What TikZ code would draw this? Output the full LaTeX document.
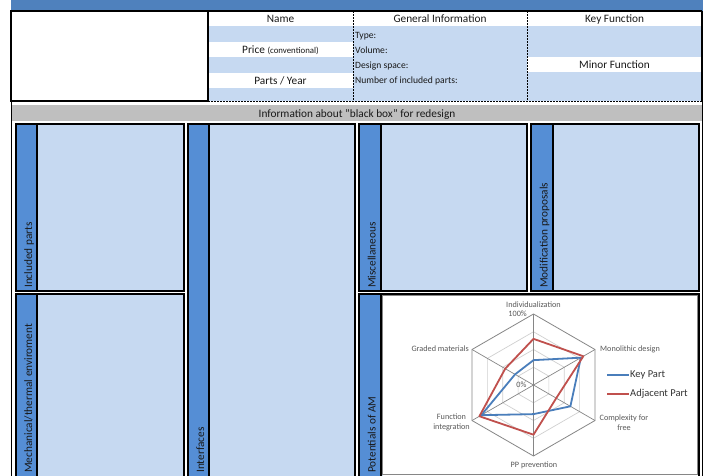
\documentclass[tikz,border=0pt]{standalone}
\usepackage{fontspec}
\setmainfont{Carlito}
\definecolor{barblue}{HTML}{4F81BD}
\definecolor{stripblue}{HTML}{558ED5}
\definecolor{cellblue}{HTML}{C6D9F1}
\definecolor{bandgray}{HTML}{BFBFBF}
\definecolor{keyblue}{HTML}{4A7EBB}
\definecolor{adjred}{HTML}{C0504D}
\definecolor{griddark}{HTML}{868686}
\definecolor{gridlight}{HTML}{D0D0D0}
\definecolor{charttext}{HTML}{595959}
\newcommand{\hdrfont}{\fontsize{11.3}{13}\selectfont}
\newcommand{\smlfont}{\fontsize{9.6}{11}\selectfont}
\newcommand{\tinyfont}{\fontsize{8.8}{10}\selectfont}
\newcommand{\chartfont}{\fontsize{8.2}{10}\selectfont}
\newcommand{\legfont}{\fontsize{10.5}{12}\selectfont}
\begin{document}
\begin{tikzpicture}[x=1pt,y=-1pt,
  panel/.style={draw=black,line width=1.3pt,fill=cellblue},
  strip/.style={draw=black,line width=1.1pt,fill=stripblue},
  solidline/.style={draw=black,line width=1.4pt},
  dashline/.style={draw=black,line width=0.8pt,dash pattern=on 2pt off 1pt},
  hdr/.style={font=\hdrfont,inner sep=0pt,anchor=base,text=black!90},
  sml/.style={font=\smlfont,inner sep=0pt,anchor=base west,text=black!90},
  vlabel/.style={rotate=90,anchor=base west,inner sep=0pt,font=\hdrfont,text=black!90},
  clabel/.style={font=\chartfont,inner sep=0pt,text=charttext,align=center},
  keyline/.style={draw=keyblue,line width=1.8pt,line join=round},
  adjline/.style={draw=adjred,line width=1.8pt,line join=round}]
\useasboundingbox (0,0) rectangle (709,475);
\clip (0,0) rectangle (709,475);
\fill[white] (0,0) rectangle (709,475);

% top bar
\fill[barblue] (11,0) rectangle (703,11);

% ---------- top table ----------
\fill[cellblue] (208,26) rectangle (353,42);
\fill[cellblue] (208,57) rectangle (353,73);
\fill[cellblue] (208,88) rectangle (353,101);
\fill[cellblue] (353,26) rectangle (527,101);
\fill[cellblue] (527,26) rectangle (702,57);
\fill[cellblue] (527,72) rectangle (702,101);

\draw[dashline] (353,11) -- (353,101);
\draw[dashline] (527,11) -- (527,101);
\draw[dashline] (208,101) -- (702,101);
\draw[solidline] (11,11) -- (702,11);
\draw[solidline] (702,11) -- (702,101);
\draw[solidline] (11,11) rectangle (208,101);

\node[hdr] (name) at (280.5,22) {Name};
\node[hdr] (price) at (280.5,53) {Price {\tinyfont (conventional)}};
\node[hdr] (parts) at (280.5,84) {Parts / Year};
\node[hdr] (geninfo) at (440,22) {General Information};
\node[sml] (type) at (355,38.5) {Type:};
\node[sml] (volume) at (355,53) {Volume:};
\node[sml] (design) at (355,68) {Design space:};
\node[sml] (number) at (355,83.5) {Number of included parts:};
\node[hdr] (keyf) at (614.5,22) {Key Function};
\node[hdr] (minorf) at (614.5,68) {Minor Function};

% ---------- gray band ----------
\fill[bandgray] (12,105) rectangle (703,121);
\node[hdr] (info) at (357,117) {Information about "black box" for redesign};

% outer frame
\draw[black,line width=0.8pt] (11,101) -- (11,480);
\draw[black,line width=0.8pt] (702,101) -- (702,480);

% ---------- panels ----------
\draw[panel] (16,124) rectangle (184,291);
\draw[strip] (16,124) rectangle (37,291);
\node[vlabel] (incl) at (32,288) {Included parts};
\draw[panel] (16,294) rectangle (184,482);
\draw[strip] (16,294) rectangle (37,482);
\node[vlabel] (mech) at (32,473) {Mechanical/thermal enviroment};
\draw[panel] (188,124) rectangle (355,482);
\draw[strip] (188,124) rectangle (209,482);
\node[vlabel] (intf) at (204,473) {Interfaces};
\draw[panel] (359,124) rectangle (527,291);
\draw[strip] (359,124) rectangle (381,291);
\node[vlabel] (misc) at (375.5,288) {Miscellaneous};
\draw[panel] (531,124) rectangle (699,291);
\draw[strip] (531,124) rectangle (553,291);
\node[vlabel] (modp) at (547.5,288) {Modification proposals};
\draw[panel] (359,294) rectangle (699,482);
\draw[strip] (359,294) rectangle (381,482);
\node[vlabel] (pot) at (375.5,473) {Potentials of AM};
\fill[white] (382.5,295.5) rectangle (698,476);
\draw[draw=griddark,line width=0.8pt] (382.5,295.5) rectangle (697.5,474);

% ---------- radar chart ----------
\begin{scope}[shift={(533.5,385)},x=1pt,y=1pt]
\def\R{71}
\foreach \f in {0.25,0.5,0.75}
  \draw[gridlight,line width=0.7pt] (90:{\f*\R}) -- (30:{\f*\R}) -- (-30:{\f*\R}) -- (-90:{\f*\R}) -- (-150:{\f*\R}) -- (150:{\f*\R}) -- cycle;
\coordinate (c0) at (0,0);
\coordinate (vI) at (90:\R);
\coordinate (vM) at (30:\R);
\coordinate (vC) at (-30:\R);
\coordinate (vP) at (-90:\R);
\coordinate (vF) at (-150:\R);
\coordinate (vG) at (150:\R);
\foreach \v in {vI,vM,vC,vP,vF,vG}
  \draw[griddark,line width=0.7pt] (c0) -- (\v);
\draw[griddark,line width=0.8pt] (vI) -- (vM) -- (vC) -- (vP) -- (vF) -- (vG) -- cycle;
\draw[keyline] (90:{0.35*\R}) -- (30:{0.77*\R}) -- (-30:{0.6*\R}) -- (-90:{0.41*\R}) -- (-150:{0.85*\R}) -- (150:{0.3*\R}) -- cycle;
\draw[adjline] (90:{0.65*\R}) -- (30:{0.81*\R}) -- (-30:{0.37*\R}) -- (-90:{0.7*\R}) -- (-150:{0.88*\R}) -- (150:{0.46*\R}) -- cycle;
\node[clabel] (lI) at (0,80) {Individualization};
\node[clabel,anchor=east] (l100) at (-6.5,71) {100\%};
\node[clabel] (l0) at (-12,0) {0\%};
\node[clabel,anchor=east] (lG) at (-64.5,36) {Graded materials};
\node[clabel,anchor=west] (lM) at (66.5,36) {Monolithic design};
\node[clabel] (lC) at (90.5,-37.5) {Complexity for\\free};
\node[clabel] (lP) at (0.5,-80) {PP prevention};
\node[clabel] (lF) at (-82,-37.5) {Function\\integration};
\coordinate (kb1) at (73.5,10);
\coordinate (kb2) at (95,10);
\coordinate (ab1) at (73.5,-9);
\coordinate (ab2) at (95,-9);
\draw[keyline,line cap=butt] (kb1) -- (kb2);
\draw[adjline,line cap=butt] (ab1) -- (ab2);
\node[font=\legfont,text=black!80,anchor=west,inner sep=0pt] (lkey) at (96.5,10) {Key Part};
\node[font=\legfont,text=black!80,anchor=west,inner sep=0pt] (ladj) at (96.5,-9) {Adjacent Part};
\end{scope}
\end{tikzpicture}
\end{document}
